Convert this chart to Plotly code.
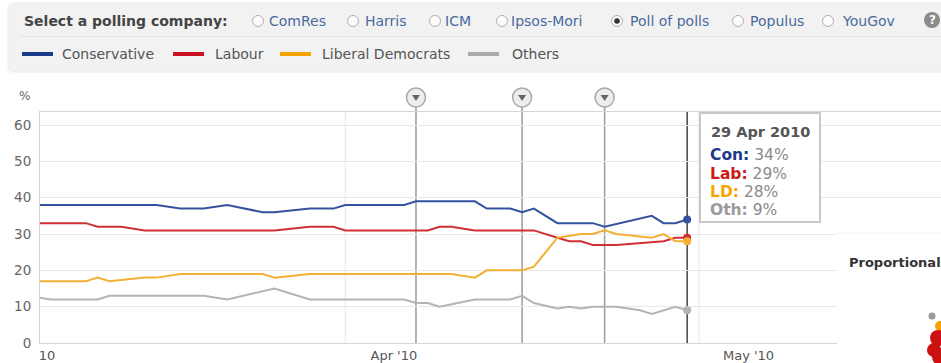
import plotly.graph_objects as go

# ---------------- data ----------------
con_dates = ["2010-03-05", "2010-03-15", "2010-03-17", "2010-03-19", "2010-03-21", "2010-03-24",
             "2010-03-25", "2010-03-28", "2010-03-30", "2010-03-31", "2010-04-05", "2010-04-06",
             "2010-04-11", "2010-04-12", "2010-04-14", "2010-04-15", "2010-04-16", "2010-04-18",
             "2010-04-21", "2010-04-22", "2010-04-26", "2010-04-27", "2010-04-28", "2010-04-29"]
con_vals = [38, 38, 37, 37, 38, 36, 36, 37, 37, 38, 38, 39, 39, 37, 37, 36, 37, 33, 33, 32, 35, 33, 33, 34]

lab_dates = ["2010-03-05", "2010-03-09", "2010-03-10", "2010-03-12", "2010-03-14", "2010-03-25",
             "2010-03-28", "2010-03-30", "2010-03-31", "2010-04-07", "2010-04-08", "2010-04-09",
             "2010-04-11", "2010-04-16", "2010-04-18", "2010-04-19", "2010-04-20", "2010-04-21",
             "2010-04-23", "2010-04-27", "2010-04-28", "2010-04-29"]
lab_vals = [33, 33, 32, 32, 31, 31, 32, 32, 31, 31, 32, 32, 31, 31, 29, 28, 28, 27, 27, 28, 29, 29]

ld_dates = ["2010-03-05", "2010-03-09", "2010-03-10", "2010-03-11", "2010-03-14", "2010-03-15",
            "2010-03-17", "2010-03-24", "2010-03-25", "2010-03-28", "2010-04-09", "2010-04-11",
            "2010-04-12", "2010-04-15", "2010-04-16", "2010-04-18", "2010-04-20", "2010-04-21",
            "2010-04-22", "2010-04-23", "2010-04-26", "2010-04-27", "2010-04-28", "2010-04-29"]
ld_vals = [17, 17, 18, 17, 18, 18, 19, 19, 18, 19, 19, 18, 20, 20, 21, 29, 30, 30, 31, 30, 29, 30, 28, 28]

oth_dates = ["2010-03-05", "2010-03-06", "2010-03-10", "2010-03-11", "2010-03-19", "2010-03-21",
             "2010-03-25", "2010-03-28", "2010-04-05", "2010-04-06", "2010-04-07", "2010-04-08",
             "2010-04-11", "2010-04-14", "2010-04-15", "2010-04-16", "2010-04-18", "2010-04-19",
             "2010-04-20", "2010-04-21", "2010-04-23", "2010-04-25", "2010-04-26", "2010-04-28",
             "2010-04-29"]
oth_vals = [12.5, 12, 12, 13, 13, 12, 15, 12, 12, 11, 11, 10, 12, 12, 13, 11, 9.5, 10, 9.5, 10, 10, 9, 8, 10, 9]

series_names = ["Conservative", "Labour", "Liberal Democrats", "Others"]
series_short = ["Con", "Lab", "LD", "Oth"]
series_colors = ["#33539f", "#cf2f35", "#f2b134", "#b4b4b4"]
text_colors = ["#1c3a8a", "#cc1a1a", "#f5a700", "#9a9a9a"]
legend_colors = ["#1a3a8c", "#cc1122", "#f5a300", "#aaaaaa"]

event_dates = ["2010-04-06", "2010-04-15", "2010-04-22"]
hover_date = "2010-04-29"
hover_label = "29 Apr 2010"
month_grid_dates = ["2010-03-31", "2010-04-30"]

x_tick_vals = ["2010-03-05 17:00", "2010-04-04 03:00", "2010-05-04 05:00"]
x_tick_text = ["10", "Apr '10", "May '10"]
y_tick_vals = [0, 10, 20, 30, 40, 50, 60]

companies = ["ComRes", "Harris", "ICM", "Ipsos-Mori", "Poll of polls", "Populus", "YouGov"]
selected_company = "Poll of polls"

# ---------------- layout helpers ----------------
W_FIG, H_FIG = 941, 363
L, T, R, B = 40, 112, 0, 20
PW, PH = W_FIG - L - R, H_FIG - T - B
FONT = "DejaVu Sans"


def px(x):
    return (x - L) / PW


def py(y):
    return (T + PH - y) / PH


Y_TOP = 63.6

fig = go.Figure()

all_dates = [con_dates, lab_dates, ld_dates, oth_dates]
all_vals = [con_vals, lab_vals, ld_vals, oth_vals]

for name, d, v, c in zip(series_names, all_dates, all_vals, series_colors):
    fig.add_trace(go.Scatter(x=d, y=v, mode="lines", name=name,
                             line=dict(color=c, width=2), showlegend=False, hoverinfo="skip"))

# end-point dots
for d, v, c in zip(all_dates, all_vals, series_colors):
    fig.add_trace(go.Scatter(x=[d[-1]], y=[v[-1]], mode="markers",
                             marker=dict(color=c, size=8), showlegend=False, hoverinfo="skip",
                             cliponaxis=False))

shapes = []
for md in month_grid_dates:
    shapes.append(dict(type="line", xref="x", yref="paper", x0=md, x1=md, y0=0, y1=1,
                       line=dict(color="#e6e6e6", width=1), layer="below"))
for ed in event_dates:
    shapes.append(dict(type="line", xref="x", yref="paper", x0=ed, x1=ed, y0=0, y1=py(106),
                       line=dict(color="#9a9a9a", width=1.5), layer="below"))
    # event marker circle + triangle (pixel-sized, anchored to the event date)
    shapes.append(dict(type="circle", xref="x", yref="paper", xsizemode="pixel", ysizemode="pixel",
                       xanchor=ed, yanchor=py(97.5), x0=-9.5, x1=9.5, y0=-9.5, y1=9.5,
                       fillcolor="#ededed", line=dict(color="#a8a8a8", width=1.5), layer="above"))
    shapes.append(dict(type="path", xref="x", yref="paper", xsizemode="pixel", ysizemode="pixel",
                       xanchor=ed, yanchor=py(97.5), path="M -4,2.5 L 4,2.5 L 0,-3.5 Z",
                       fillcolor="#666666", line=dict(width=0), layer="above"))
shapes.append(dict(type="line", xref="x", yref="paper", x0=hover_date, x1=hover_date, y0=0, y1=1,
                   line=dict(color="#444444", width=1.5), layer="below"))

# header panel
hx0, hx1, hy0, hy1, rr = 8, 950, 3, 72, 5
path = (f"M {px(hx0 + rr)},{py(hy0)} L {px(hx1)},{py(hy0)} L {px(hx1)},{py(hy1)} "
        f"L {px(hx0 + rr)},{py(hy1)} Q {px(hx0)},{py(hy1)} {px(hx0)},{py(hy1 - rr)} "
        f"L {px(hx0)},{py(hy0 + rr)} Q {px(hx0)},{py(hy0)} {px(hx0 + rr)},{py(hy0)} Z")
shapes.append(dict(type="path", xref="paper", yref="paper", path=path,
                   fillcolor="#f2f2f2", line=dict(color="#ececec", width=1), layer="above"))
shapes.append(dict(type="line", xref="paper", yref="paper", x0=px(20), x1=px(950), y0=py(37), y1=py(37),
                   line=dict(color="#dcdcdc", width=1), layer="above"))
shapes.append(dict(type="line", xref="paper", yref="paper", x0=px(20), x1=px(950), y0=py(38), y1=py(38),
                   line=dict(color="#fafafa", width=1), layer="above"))

annotations = []
annotations.append(dict(xref="paper", yref="paper", x=px(22), y=py(21), xanchor="left", yanchor="middle",
                        text="<b>Select a polling company:</b>", showarrow=False,
                        font=dict(family=FONT, size=14, color="#444444")))

radio_x = [258, 353, 435, 502, 617, 738, 828]
text_x = [267, 363, 443, 509, 628, 748, 840]
rad = 5.5
for comp, rx, tx in zip(companies, radio_x, text_x):
    shapes.append(dict(type="circle", xref="paper", yref="paper",
                       x0=px(rx - rad), x1=px(rx + rad), y0=py(21 + rad), y1=py(21 - rad),
                       fillcolor="#fbfbfb", line=dict(color="#b0b0b0", width=1), layer="above"))
    if comp == selected_company:
        shapes.append(dict(type="circle", xref="paper", yref="paper",
                           x0=px(rx - 2.8), x1=px(rx + 2.8), y0=py(21 + 2.8), y1=py(21 - 2.8),
                           fillcolor="#333333", line=dict(color="#333333", width=0), layer="above"))
    annotations.append(dict(xref="paper", yref="paper", x=px(tx), y=py(21), xanchor="left",
                            yanchor="middle", text=comp, showarrow=False,
                            font=dict(family=FONT, size=14, color="#4a6a9e")))

# help icon
shapes.append(dict(type="circle", xref="paper", yref="paper", x0=px(924), x1=px(940), y0=py(28), y1=py(12),
                   fillcolor="#8a8a8a", line=dict(color="#8a8a8a", width=0), layer="above"))
annotations.append(dict(xref="paper", yref="paper", x=px(932), y=py(20), xanchor="center", yanchor="middle",
                        text="<b>?</b>", showarrow=False, font=dict(family=FONT, size=12, color="white")))

# legend row
leg_sw = [22, 173, 280, 468]
leg_tx = [60, 213, 320, 510]
for name, c, sx, tx in zip(series_names, legend_colors, leg_sw, leg_tx):
    shapes.append(dict(type="line", xref="paper", yref="paper", x0=px(sx), x1=px(sx + 31),
                       y0=py(54), y1=py(54), line=dict(color=c, width=4), layer="above"))
    annotations.append(dict(xref="paper", yref="paper", x=px(tx), y=py(54), xanchor="left",
                            yanchor="middle", text=name, showarrow=False,
                            font=dict(family=FONT, size=14, color="#555555")))

# y unit
annotations.append(dict(xref="paper", yref="paper", x=px(17), y=py(96), xanchor="left", yanchor="middle",
                        text="%", showarrow=False, font=dict(family=FONT, size=12, color="#666666")))

# tooltip box and lines
shapes.append(dict(type="rect", xref="paper", yref="paper", x0=px(700), x1=px(820), y0=py(222), y1=py(113),
                   fillcolor="white", line=dict(color="#c8c8c8", width=2), layer="above"))
annotations.append(dict(xref="paper", yref="paper", x=px(709), y=py(132), xanchor="left", yanchor="middle",
                        text=f"<b>{hover_label}</b>", showarrow=False,
                        font=dict(family=FONT, size=14.5, color="#555555")))
tip_y = [155, 174, 192, 210]
for s, tc, v, ty in zip(series_short, text_colors, all_vals, tip_y):
    vv = int(v[-1]) if float(v[-1]).is_integer() else v[-1]
    annotations.append(dict(xref="paper", yref="paper", x=px(708), y=py(ty), xanchor="left",
                            yanchor="middle", showarrow=False,
                            text=f"<b><span style='color:{tc}'>{s}:</span></b> {vv}%",
                            font=dict(family=FONT, size=15.5, color="#8a8a8a")))

# right panel (Proportional)
shapes.append(dict(type="rect", xref="paper", yref="paper", x0=px(837), x1=px(960), y0=py(380), y1=py(233),
                   fillcolor="white", line=dict(width=0), layer="above"))
shapes.append(dict(type="line", xref="paper", yref="paper", x0=px(837), x1=px(960), y0=py(233), y1=py(233),
                   line=dict(color="#f0f0f0", width=1), layer="above"))
annotations.append(dict(xref="paper", yref="paper", x=px(847), y=py(262), xanchor="left", yanchor="middle",
                        text="<b>Proportional</b>", showarrow=False,
                        font=dict(family=FONT, size=13, color="#333333")))
blob = [(932, 316, 3.5, "#9a9a9a"), (940, 326, 5, "#f5a300"), (938, 338, 8, "#cc1111"),
        (934, 350, 7, "#cc1111"), (941, 357, 9, "#cc1111")]
for bx, by, br, bc in blob:
    shapes.append(dict(type="circle", xref="paper", yref="paper", x0=px(bx - br), x1=px(bx + br),
                       y0=py(by + br), y1=py(by - br), fillcolor=bc, line=dict(width=0), layer="above"))

fig.update_layout(
    width=W_FIG, height=H_FIG, autosize=False,
    margin=dict(l=L, r=R, t=T, b=B, pad=0),
    paper_bgcolor="white", plot_bgcolor="white",
    font=dict(family=FONT, size=13, color="#555555"),
    showlegend=False,
    shapes=shapes, annotations=annotations,
    xaxis=dict(type="date", range=["2010-03-05 02:40", "2010-05-20 12:43"],
               tickvals=x_tick_vals, ticktext=x_tick_text, showgrid=False, zeroline=False,
               showline=True, mirror=True, linecolor="#d6d6d6", linewidth=1, ticks="",
               tickfont=dict(family=FONT, size=13, color="#555555"), fixedrange=True),
    yaxis=dict(range=[0, Y_TOP], tickvals=y_tick_vals, showgrid=True, gridcolor="#e8e8e8",
               zeroline=False, showline=True, linecolor="#d6d6d6", linewidth=1, ticks="",
               ticklabelstandoff=5,
               tickfont=dict(family=FONT, size=13.5, color="#666666"), fixedrange=True),
)

fig.write_html("out.html")
